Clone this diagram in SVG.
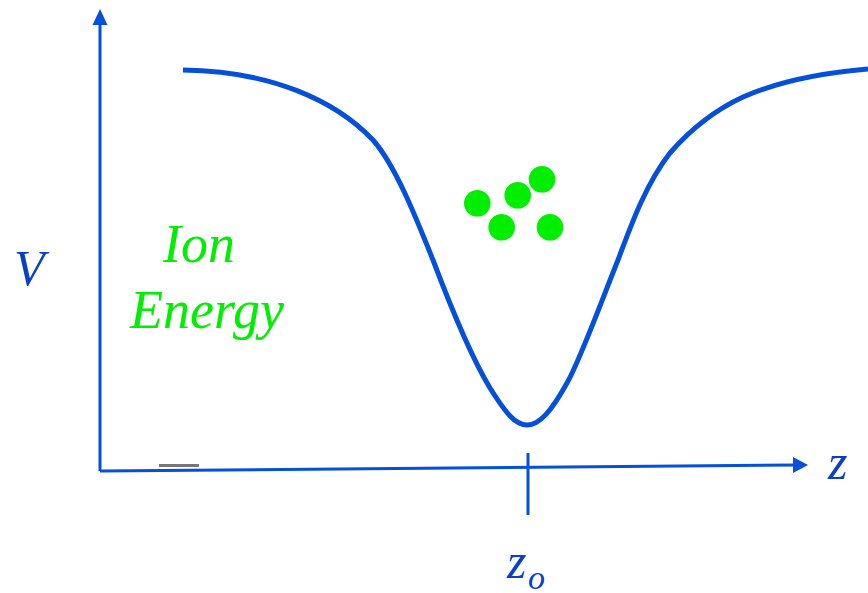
<svg xmlns="http://www.w3.org/2000/svg" width="868" height="593" viewBox="0 0 868 593">
<style>
.ax{stroke:#0550d8;stroke-width:3;fill:none}
.blue{fill:#0550d8}
.lbl{font-family:"Liberation Serif",serif;font-style:italic;font-size:50px;fill:#0a3fc8}
.grn{font-family:"Liberation Serif",serif;font-style:italic;font-size:54px;fill:#00ee00}
.ion{fill:#00ee00}
</style>
<rect width="868" height="593" fill="#fff"/>
<g id="connectors">
<line class="ax" x1="100" y1="471" x2="100" y2="22"/>
<polygon class="blue" points="100,9 92.5,25 107.5,25"/>
<line class="ax" x1="100" y1="471" x2="796" y2="465"/>
<polygon class="blue" points="808,465 793,457 793,473"/>
<line class="ax" x1="528" y1="453" x2="528" y2="515"/>
<line x1="159" y1="465.5" x2="199" y2="465.5" stroke="#777" stroke-width="3"/>
</g>
<g id="potential">
<path d="M183,70 C270,71 335,100 373,140 C395,165 415,215 433,260 C450,305 470,355 490,388 C505,412 515,425 527,425 C540,425 552,410 567,383 C580,360 600,305 618,260 C630,228 645,185 670,153 C690,130 715,110 743,97 C775,83 820,73 868,69" fill="none" stroke="#0550d8" stroke-width="5"/>
</g>
<g id="ions">
<circle class="ion" cx="477.3" cy="203.3" r="13.3"/>
<circle class="ion" cx="517.7" cy="195.3" r="13.3"/>
<circle class="ion" cx="542" cy="179.3" r="13.3"/>
<circle class="ion" cx="501.7" cy="227.3" r="13.3"/>
<circle class="ion" cx="550" cy="227.3" r="13.3"/>
</g>
<g id="labels">
<text class="lbl" x="14" y="285">V</text>
<text class="lbl" x="828" y="479">z</text>
<text class="lbl" x="507" y="578">z</text>
<text class="lbl" x="528" y="589" style="font-size:34px">o</text>
<text class="grn" x="163" y="262">Ion</text>
<text class="grn" x="130" y="328">Energy</text>
</g>
</svg>
